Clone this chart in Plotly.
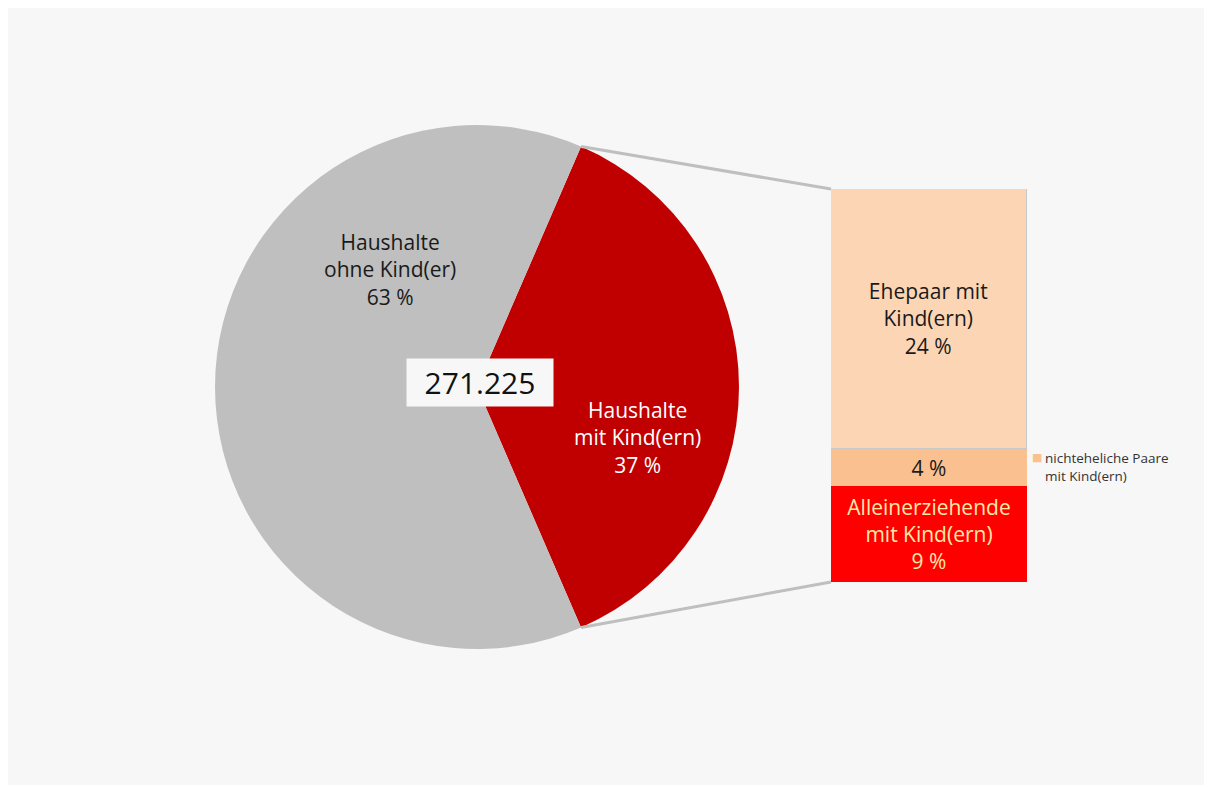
import math
import plotly.graph_objects as go

# ---------------- data ----------------
total_label = "271.225"
pie_labels = ["Haushalte<br>mit Kind(ern)", "Haushalte<br>ohne Kind(er)"]
pie_values = [37, 63]
pie_pct_text = ["37 %", "63 %"]
pie_colors = ["#c00000", "#bfbfbf"]

bar_labels = ["Alleinerziehende<br>mit Kind(ern)", "nichteheliche Paare", "Ehepaar mit<br>Kind(ern)"]
bar_values = [9.0, 3.5, 24.5]
bar_pct_text = ["9 %", "4 %", "24 %"]
bar_colors = ["#ff0000", "#fac090", "#fcd5b5"]
bar_text_colors = ["#ffe8a8", "#1a1a1a", "#1a1a1a"]
legend_label = "nichteheliche Paare<br>mit Kind(ern)"

# ---------------- layout geometry (reference pixels) ----------------
W, H = 1203, 777      # figure size
OX, OY = 8, 8         # page offset (body margin)
FONT = "Open Sans"
FS = 21


def px(x):
    return (x - OX) / W


def py(y):
    return 1 - (y - OY) / H


pie_cx, pie_cy, pie_r = 477, 387, 262
bar_x0, bar_x1, bar_y0, bar_y1 = 831, 1027, 189, 582

fig = go.Figure()

# rotation so that the first slice is centred at 3 o'clock
red_share = pie_values[0] / sum(pie_values)
rotation = 90 - 360 * red_share / 2

fig.add_trace(go.Pie(
    labels=pie_labels,
    values=pie_values,
    marker=dict(colors=pie_colors, line=dict(width=0)),
    sort=False,
    direction="clockwise",
    rotation=rotation,
    textinfo="none",
    hoverinfo="label+percent",
    showlegend=False,
    domain=dict(x=[px(pie_cx - pie_r), px(pie_cx + pie_r)],
                y=[py(pie_cy + pie_r), py(pie_cy - pie_r)]),
))

# stacked bar (bottom to top)
for i, (lab, val, col, tcol, ptxt) in enumerate(zip(bar_labels, bar_values, bar_colors,
                                                    bar_text_colors, bar_pct_text)):
    txt = ptxt if i == 1 else f"{lab}<br>{ptxt}"
    fig.add_trace(go.Bar(
        x=[0], y=[val], name=lab,
        marker=dict(color=col,
                    line=dict(color="#c8c8c8" if i == 2 else col, width=1.5 if i == 2 else 0)),
        width=1,
        text=[txt], textposition="inside", insidetextanchor="middle",
        constraintext="none",
        textfont=dict(family=FONT, size=FS, color=tcol),
        showlegend=False,
        hoverinfo="name+y",
    ))

# connector lines computed from the pie geometry
a0 = math.radians(rotation)
a1 = math.radians(rotation + 360 * red_share)
p_top = (pie_cx + pie_r * math.sin(a0), pie_cy - pie_r * math.cos(a0))
p_bot = (pie_cx + pie_r * math.sin(a1), pie_cy - pie_r * math.cos(a1))
shapes = [
    dict(type="line", xref="paper", yref="paper",
         x0=px(p_top[0]), y0=py(p_top[1]), x1=px(bar_x0), y1=py(bar_y0),
         line=dict(color="#bfbfbf", width=3)),
    dict(type="line", xref="paper", yref="paper",
         x0=px(p_bot[0]), y0=py(p_bot[1]), x1=px(bar_x0), y1=py(bar_y1),
         line=dict(color="#bfbfbf", width=3)),
]

annotations = [
    dict(x=px(390), y=py(270), xref="paper", yref="paper",
         xanchor="center", yanchor="middle",
         text=f"{pie_labels[1]}<br>{pie_pct_text[1]}", showarrow=False,
         font=dict(family=FONT, size=FS, color="#1a1a1a"), align="center"),
    dict(x=px(637), y=py(437), xref="paper", yref="paper",
         xanchor="center", yanchor="middle",
         text=f"{pie_labels[0]}<br>{pie_pct_text[0]}", showarrow=False,
         font=dict(family=FONT, size=FS, color="#ffffff"), align="center"),
    dict(x=px(480), y=py(383), xref="paper", yref="paper",
         xanchor="center", yanchor="middle",
         text=total_label, showarrow=False, bgcolor="#f7f7f7",
         width=144, height=45,
         font=dict(family=FONT, size=30, color="#111111"), align="center"),
    # legend-like key for the small segment
    dict(x=px(1037), y=py(458), xref="paper", yref="paper",
         xanchor="center", yanchor="middle",
         text="■", showarrow=False,
         font=dict(family="DejaVu Sans", size=11, color=bar_colors[1])),
    dict(x=px(1043), y=py(467), xref="paper", yref="paper",
         xanchor="left", yanchor="middle",
         text=legend_label, showarrow=False, align="left",
         font=dict(family=FONT, size=13.5, color="#333333")),
]

fig.update_layout(
    width=W, height=H,
    margin=dict(l=0, r=0, t=0, b=0),
    paper_bgcolor="#f7f7f7",
    plot_bgcolor="rgba(0,0,0,0)",
    barmode="stack",
    bargap=0,
    showlegend=False,
    xaxis=dict(domain=[px(bar_x0), px(bar_x1)], range=[-0.5, 0.5], visible=False, fixedrange=True),
    yaxis=dict(domain=[py(bar_y1), py(bar_y0)], range=[0, sum(bar_values)], visible=False, fixedrange=True),
    shapes=shapes,
    annotations=annotations,
    font=dict(family=FONT),
)

fig.write_html("out.html")
